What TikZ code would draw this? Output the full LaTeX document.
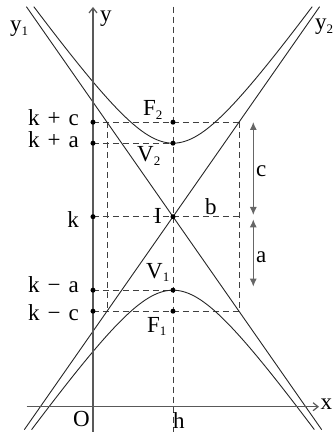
\documentclass[tikz,border=0pt]{standalone}
\usepackage{fontspec}
\setmainfont{Liberation Serif}
\usetikzlibrary{arrows.meta}
\newcommand{\lowidx}[1]{\raisebox{-0.35ex}{\fontsize{13}{13}\selectfont #1}}

\begin{document}
\begin{tikzpicture}[
          x=10pt, y=10pt,
          lbl/.style={font=\fontsize{23}{25}\selectfont, inner sep=0pt},
          curve/.style={line width=0.9pt, black!85},
          guide/.style={line width=0.8pt, black!75, dash pattern=on 6pt off 4pt},
          axis/.style={line width=1.2pt, black!65, -{Straight Barb[length=5pt,width=8pt]}},
          span/.style={line width=1.2pt, black!60, {Latex[length=8pt,width=7pt]}-{Latex[length=8pt,width=7pt]}},
          pt/.style={circle, fill=black, inner sep=0pt, minimum size=5pt}
      ]
        \useasboundingbox (-9.3,-2.53) rectangle (24.2,40.67);
        % points on the y axis
        \coordinate (yc) at (0,28.45);
        \coordinate (ya) at (0,26.35);
        \coordinate (yk) at (0,19);
        \coordinate (yma) at (0,11.65);
        \coordinate (ymc) at (0,9.55);
        % points on x = h
        \coordinate (F2) at (8,28.45);
        \coordinate (V2) at (8,26.35);
        \coordinate (I) at (8,19);
        \coordinate (V1) at (8,11.65);
        \coordinate (F1) at (8,9.55);
        % corners of the box
        \coordinate (L2) at (1.4,28.45);
        \coordinate (R2) at (14.6,28.45);
        \coordinate (Rk) at (14.6,19);
        \coordinate (L1) at (1.4,9.55);
        \coordinate (R1) at (14.6,9.55);
        % dashed guides
        \draw[guide] (8,40) -- (8,-2.53);
        \draw[guide] (yc) -- (R2);
        \draw[guide] (ya) -- (V2);
        \draw[guide] (yk) -- (Rk);
        \draw[guide] (yma) -- (V1);
        \draw[guide] (ymc) -- (R1);
        \draw[guide] (L2) -- (L1);
        \draw[guide] (R2) -- (R1);
        % asymptotes
        \draw[curve] (-6.66,40) -- (22.87,-2.3);
        \draw[curve] (22.66,40) -- (-6.87,-2.3);
        % branches
        \draw[curve, domain=-5.92:21.92, samples=150, smooth]
          plot (\x, {19+7.35*sqrt(1+((\x-8)/5.2)^2)});
        \draw[curve, domain=-6.14:22.14, samples=150, smooth]
          plot (\x, {19-7.35*sqrt(1+((\x-8)/5.2)^2)});
        % axes
        \draw[axis] (-6.63,0) -- (22.6,0);
        \draw[axis] (0,-2.53) -- (0,39.97);
        % spans c and a
        \draw[span] (16.03,28.47) -- (16.03,19.17);
        \draw[span] (16.03,18.74) -- (16.03,12.0);
        % dots
        \foreach \p in {yc,ya,yk,yma,ymc,F2,V2,I,V1,F1}
          \node[pt] at (\p) {};
        % labels
        \node[lbl, anchor=base west] (ylab) at (0.7,38.5) {y};
        \node[lbl, anchor=base west] (y1lab) at (-8.3,37.5) {y\lowidx{1}};
        \node[lbl, anchor=base west] (y2lab) at (22.2,37.7) {y\lowidx{2}};
        \node[lbl, anchor=base west] (xlab) at (22.75,-0.3) {x};
        \node[lbl, anchor=base west] (olab) at (-2.0,-1.93) {O};
        \node[lbl, anchor=base west] (hlab) at (8.0,-2.15) {h};
        \node[lbl, anchor=base west] (F2lab) at (5.0,29.07) {F\lowidx{2}};
        \node[lbl, anchor=base west] (V2lab) at (4.4,24.5) {V\lowidx{2}};
        \node[lbl, anchor=base east] (Ilab) at (6.9,18.27) {I};
        \node[lbl, anchor=base west] (blab) at (11.2,19.2) {b};
        \node[lbl, anchor=base west] (V1lab) at (5.3,12.87) {V\lowidx{1}};
        \node[lbl, anchor=base west] (F1lab) at (5.4,7.47) {F\lowidx{1}};
        \node[lbl, anchor=base west] (clab) at (16.3,23.0) {c};
        \node[lbl, anchor=base west] (alab) at (16.3,14.47) {a};
        \node[lbl, anchor=base east] (kclab) at (-1.4,28.12) {k\hspace{0.35em}+\hspace{0.35em}c};
        \node[lbl, anchor=base east] (kalab) at (-1.4,25.87) {k\hspace{0.35em}+\hspace{0.35em}a};
        \node[lbl, anchor=base east] (klab) at (-1.4,17.87) {k};
        \node[lbl, anchor=base east] (kmalab) at (-1.4,11.37) {k\hspace{0.35em}−\hspace{0.35em}a};
        \node[lbl, anchor=base east] (kmclab) at (-1.4,8.67) {k\hspace{0.35em}−\hspace{0.35em}c};
      \end{tikzpicture}
\end{document}
